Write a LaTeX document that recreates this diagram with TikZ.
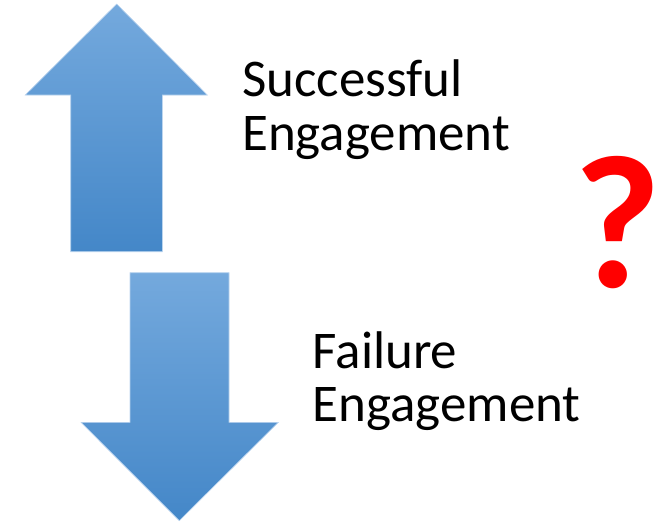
\documentclass[tikz,border=0pt]{standalone}
\usepackage{fontspec}
\setmainfont{Carlito}
\definecolor{arrtop}{HTML}{74A9DD}
\definecolor{arrmid}{HTML}{559ADB}
\definecolor{arrbot}{HTML}{4487C8}
\definecolor{arredge}{HTML}{B9D3EE}
\definecolor{qred}{HTML}{FF0000}
\tikzset{
  bigarrow/.style={top color=arrtop, middle color=arrmid, bottom color=arrbot, draw=arredge, line width=0.6pt, line join=miter},
  label/.style={font=\fontsize{53}{55}\selectfont, text=black, inner sep=0pt, anchor=base west},
  qmark/.style={font=\fontsize{190}{190}\selectfont\bfseries, text=qred, inner sep=0pt, anchor=base}
}
\begin{document}
\begin{tikzpicture}[x=1pt,y=-1pt]
\useasboundingbox (0,0) rectangle (667,523);
% up arrow
\path[bigarrow] (116.7,4) -- (207.3,95) -- (162.3,95) -- (162.3,251.7) -- (70.7,251.7) -- (70.7,95) -- (25.3,95) -- cycle;
% down arrow
\path[bigarrow] (130,272.7) -- (229,272.7) -- (229,422.3) -- (278.3,422.3) -- (179.3,520.7) -- (81,422.3) -- (130,422.3) -- cycle;
\node[label] (s1) at (242,96.7) {Successful};
\node[label] (s2) at (242,150.3) {Engagement};
\node[label] (f1) at (312.5,368.3) {Failure};
\node[label] (f2) at (312.5,421.7) {Engagement};
\node[qmark] (q) at (618,287.7) {\makebox[70pt]{?}};
\end{tikzpicture}
\end{document}
